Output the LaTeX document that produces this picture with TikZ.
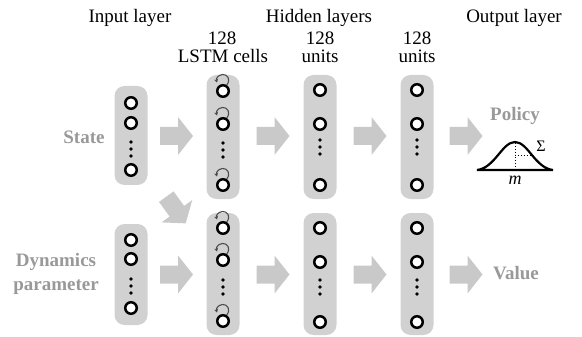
\documentclass[tikz,border=0pt]{standalone}
\usepackage{fontspec}
\setmainfont{Liberation Serif}
\usetikzlibrary{arrows.meta}
\definecolor{colgray}{gray}{0.82}
\definecolor{arrgray}{gray}{0.79}
\definecolor{txtgray}{gray}{0.6}

% one stack of units: prefix, x, first, second, middle of the dots, last
\newcommand{\unitstack}[6]{%
  \node[unit] (#1-1) at (#2,#3) {};
  \node[unit] (#1-2) at (#2,#4) {};
  \foreach \d [count=\k] in {-7,0,7} \node[dot] (#1-dot\k) at (#2,#5+\d) {};
  \node[unit] (#1-n) at (#2,#6) {};
}
% recurrent self-loops above the units of an LSTM stack
\newcommand{\loopstack}[4]{%
  \pic at (#1,#2) {selfloop};
  \pic at (#1,#3) {selfloop};
  \pic at (#1,#4) {selfloop};
}

\begin{document}
\begin{tikzpicture}[x=1pt,y=-1pt,
  col/.style={fill=colgray, rounded corners=10pt, inner sep=0pt, minimum width=33pt},
  unit/.style={circle, draw=black, fill=white, line width=2.5pt, minimum size=11.5pt, inner sep=0pt},
  dot/.style={circle, fill=black, minimum size=3.6pt, inner sep=0pt},
  hdr/.style={font=\fontsize{19}{21}\selectfont, anchor=base},
  io/.style={font=\fontsize{19}{24}\selectfont\bfseries, text=txtgray, align=center},
  fatarrow/.pic={\fill[arrgray] (-16.5,-9) -- (1.5,-9) -- (1.5,-19) -- (16.5,0)
      -- (1.5,19) -- (1.5,9) -- (-16.5,9) -- cycle;},
  selfloop/.pic={\draw[black!70, line width=1.1pt, -{Stealth[length=3.4pt,width=4pt]}]
      (3.8,-6) .. controls (8,-11.5) and (4.5,-17) .. (-0.5,-16.5)
      .. controls (-5.5,-16) and (-7,-12) .. (-6,-8.5);}
]
\useasboundingbox (0,0) rectangle (582,337);

% headings
\node[hdr] (hIn)  at (130,23) {Input layer};
\node[hdr] (hHid) at (319,23) {Hidden layers};
\node[hdr] (hOut) at (514,23) {Output layer};
\node[hdr] (nL)  at (222,45) {128};
\node[hdr] (nLb) at (223,63) {LSTM cells};
\node[hdr] (nA)  at (320,45) {128};
\node[hdr] (nAb) at (320,63) {units};
\node[hdr] (nB)  at (417,45) {128};
\node[hdr] (nBb) at (417,63) {units};

% inputs and outputs
\node[io] (state) at (84,137) {State};
\node[io] (dyn) at (56,274) {Dynamics\\parameter};
\node[io] (policy) at (515,116) {Policy};
\node[io] (value) at (516,273) {Value};

% layer columns
\node[col, minimum height=99pt]  (inS) at (131,135.5) {};
\node[col, minimum height=101pt] (inD) at (131,274.5) {};
\node[col, minimum height=124pt] (lsT) at (223,137) {};
\node[col, minimum height=122pt] (lsB) at (223,274) {};
\node[col, minimum height=124pt] (haT) at (320,137) {};
\node[col, minimum height=122pt] (haB) at (320,274) {};
\node[col, minimum height=124pt] (hbT) at (417,137) {};
\node[col, minimum height=122pt] (hbB) at (417,274) {};

% units
\unitstack{uS}{131}{103}{123}{149}{170}
\unitstack{uD}{131}{240}{259}{286}{308}
\loopstack{223}{91}{124}{185}
\unitstack{uLT}{223}{91}{124}{150}{185}
\loopstack{223}{228}{260}{321}
\unitstack{uLB}{223}{228}{260}{287}{321}
\unitstack{uAT}{320}{90}{124}{147}{185}
\unitstack{uAB}{320}{228}{262}{287}{322}
\unitstack{uBT}{417}{90}{124}{147}{185}
\unitstack{uBB}{417}{228}{262}{287}{322}

% flow arrows
\foreach \x in {176.5,273,370,466} {
  \pic at (\x,136) {fatarrow};
  \pic at (\x,274.5) {fatarrow};
}
\pic[rotate=-54] at (176,210) {fatarrow};

% Gaussian policy
\draw[line width=2.2pt] (477,170) .. controls (495,168) and (502,142) .. (515,142)
  .. controls (528,142) and (535,168) .. (553,170) -- cycle;
\draw[line width=0.9pt, dotted] (515,143) -- (515,170) (515,155) -- (530,155);
\node (sigma) at (541,146) {\fontsize{16}{16}\selectfont Σ};
\node (mean) at (515,180) {\fontsize{18}{18}\selectfont\itshape m};
\end{tikzpicture}
\end{document}
